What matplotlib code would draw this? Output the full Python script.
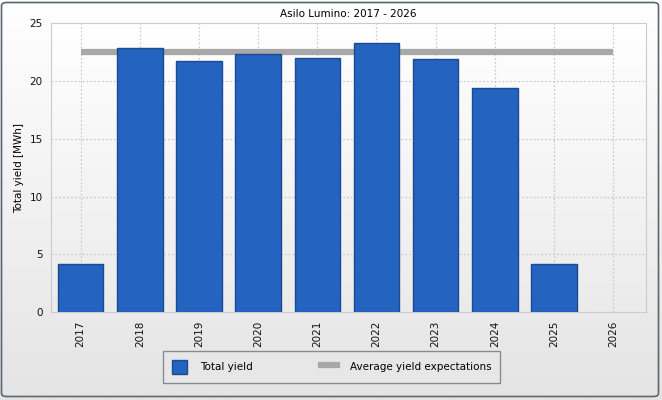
import numpy as np
import matplotlib
matplotlib.use("Agg")
import matplotlib.pyplot as plt
from matplotlib.patches import FancyBboxPatch, Patch
from matplotlib.lines import Line2D

years = ["2017", "2018", "2019", "2020", "2021", "2022", "2023", "2024", "2025", "2026"]
total_yield = [4.15, 22.8, 21.75, 22.35, 22.0, 23.3, 21.85, 19.35, 4.15, 0.0]
avg_expectation = [22.5] * len(years)

W, H = 662, 400
BAR_COLOR = "#2563c0"
BAR_EDGE = "#1d4a8f"
AVG_COLOR = "#a8a8a8"

plt.rcParams["font.family"] = ["DejaVu Sans"]
plt.rcParams["font.size"] = 7.5

fig = plt.figure(figsize=(W / 100, H / 100), dpi=100)

# figure background: vertical gradient with rounded frame
bg = fig.add_axes([0, 0, 1, 1], zorder=-10)
grad = np.linspace(0, 1, 256).reshape(-1, 1)
bg.imshow(grad, cmap=matplotlib.colors.LinearSegmentedColormap.from_list("g", ["#ffffff", "#e4e4e4"]),
          aspect="auto", extent=[0, 1, 0, 1], origin="upper")
bg.set_xlim(0, 1)
bg.set_ylim(0, 1)
bg.axis("off")
frame = FancyBboxPatch((1.5 / W, 3.5 / H), (W - 5) / W, (H - 6) / H,
                       boxstyle="round,pad=0,rounding_size=0.008",
                       transform=bg.transAxes, fill=False, edgecolor="#5c6670", linewidth=1.2)
bg.add_patch(frame)

left, right, top, bottom = 51, 645.7, 23, 312.3
ax = fig.add_axes([left / W, (H - bottom) / H, (right - left) / W, (bottom - top) / H])

# plot area gradient
ax.imshow(grad, cmap=matplotlib.colors.LinearSegmentedColormap.from_list("p", ["#ffffff", "#ebebeb"]),
          aspect="auto", extent=[-0.5, len(years) - 0.45, 0, 25], origin="upper", zorder=0)

x = np.arange(len(years))
edge_w = [1.0 if v > 0 else 0 for v in total_yield]
ax.plot(x, avg_expectation, color=AVG_COLOR, linewidth=4.5, solid_capstyle="butt", zorder=2)
ax.bar(x, total_yield, width=0.77, color=BAR_COLOR, edgecolor=BAR_EDGE, linewidth=edge_w, zorder=3)

ax.set_xlim(-0.5, len(years) - 0.45)
ax.set_ylim(0, 25)
ax.set_xticks(x)
ax.set_xticklabels(years, rotation=90)
ax.set_yticks(range(0, 26, 5))
ax.grid(True, color="#c4c4c4", linestyle=(0, (1.5, 2)), linewidth=0.8, zorder=1)
ax.set_axisbelow(True)
ax.tick_params(length=0, pad=6, colors="#111111")
for side in ["left", "bottom", "right", "top"]:
    ax.spines[side].set_color("#c8cbd0")
ax.set_ylabel("Total yield [MWh]", labelpad=4)
ax.set_title("Asilo Lumino: 2017 - 2026", fontsize=7.5, pad=4)

handles = [Patch(facecolor=BAR_COLOR, edgecolor=BAR_EDGE, label="Total yield"),
           Line2D([], [], color=AVG_COLOR, linewidth=4.5, label="Average yield expectations")]
leg = fig.legend(handles=handles, loc="center", ncol=2,
                 bbox_to_anchor=(331.5 / W, (H - 367) / H),
                 frameon=True, fancybox=False, edgecolor="#6a7785", facecolor="#e8e8e8",
                 columnspacing=6.6, handlelength=1.5, handleheight=1.6, borderpad=0.85, handletextpad=1.2)
leg.get_frame().set_linewidth(1.0)

fig.savefig("out.png", dpi=100)
